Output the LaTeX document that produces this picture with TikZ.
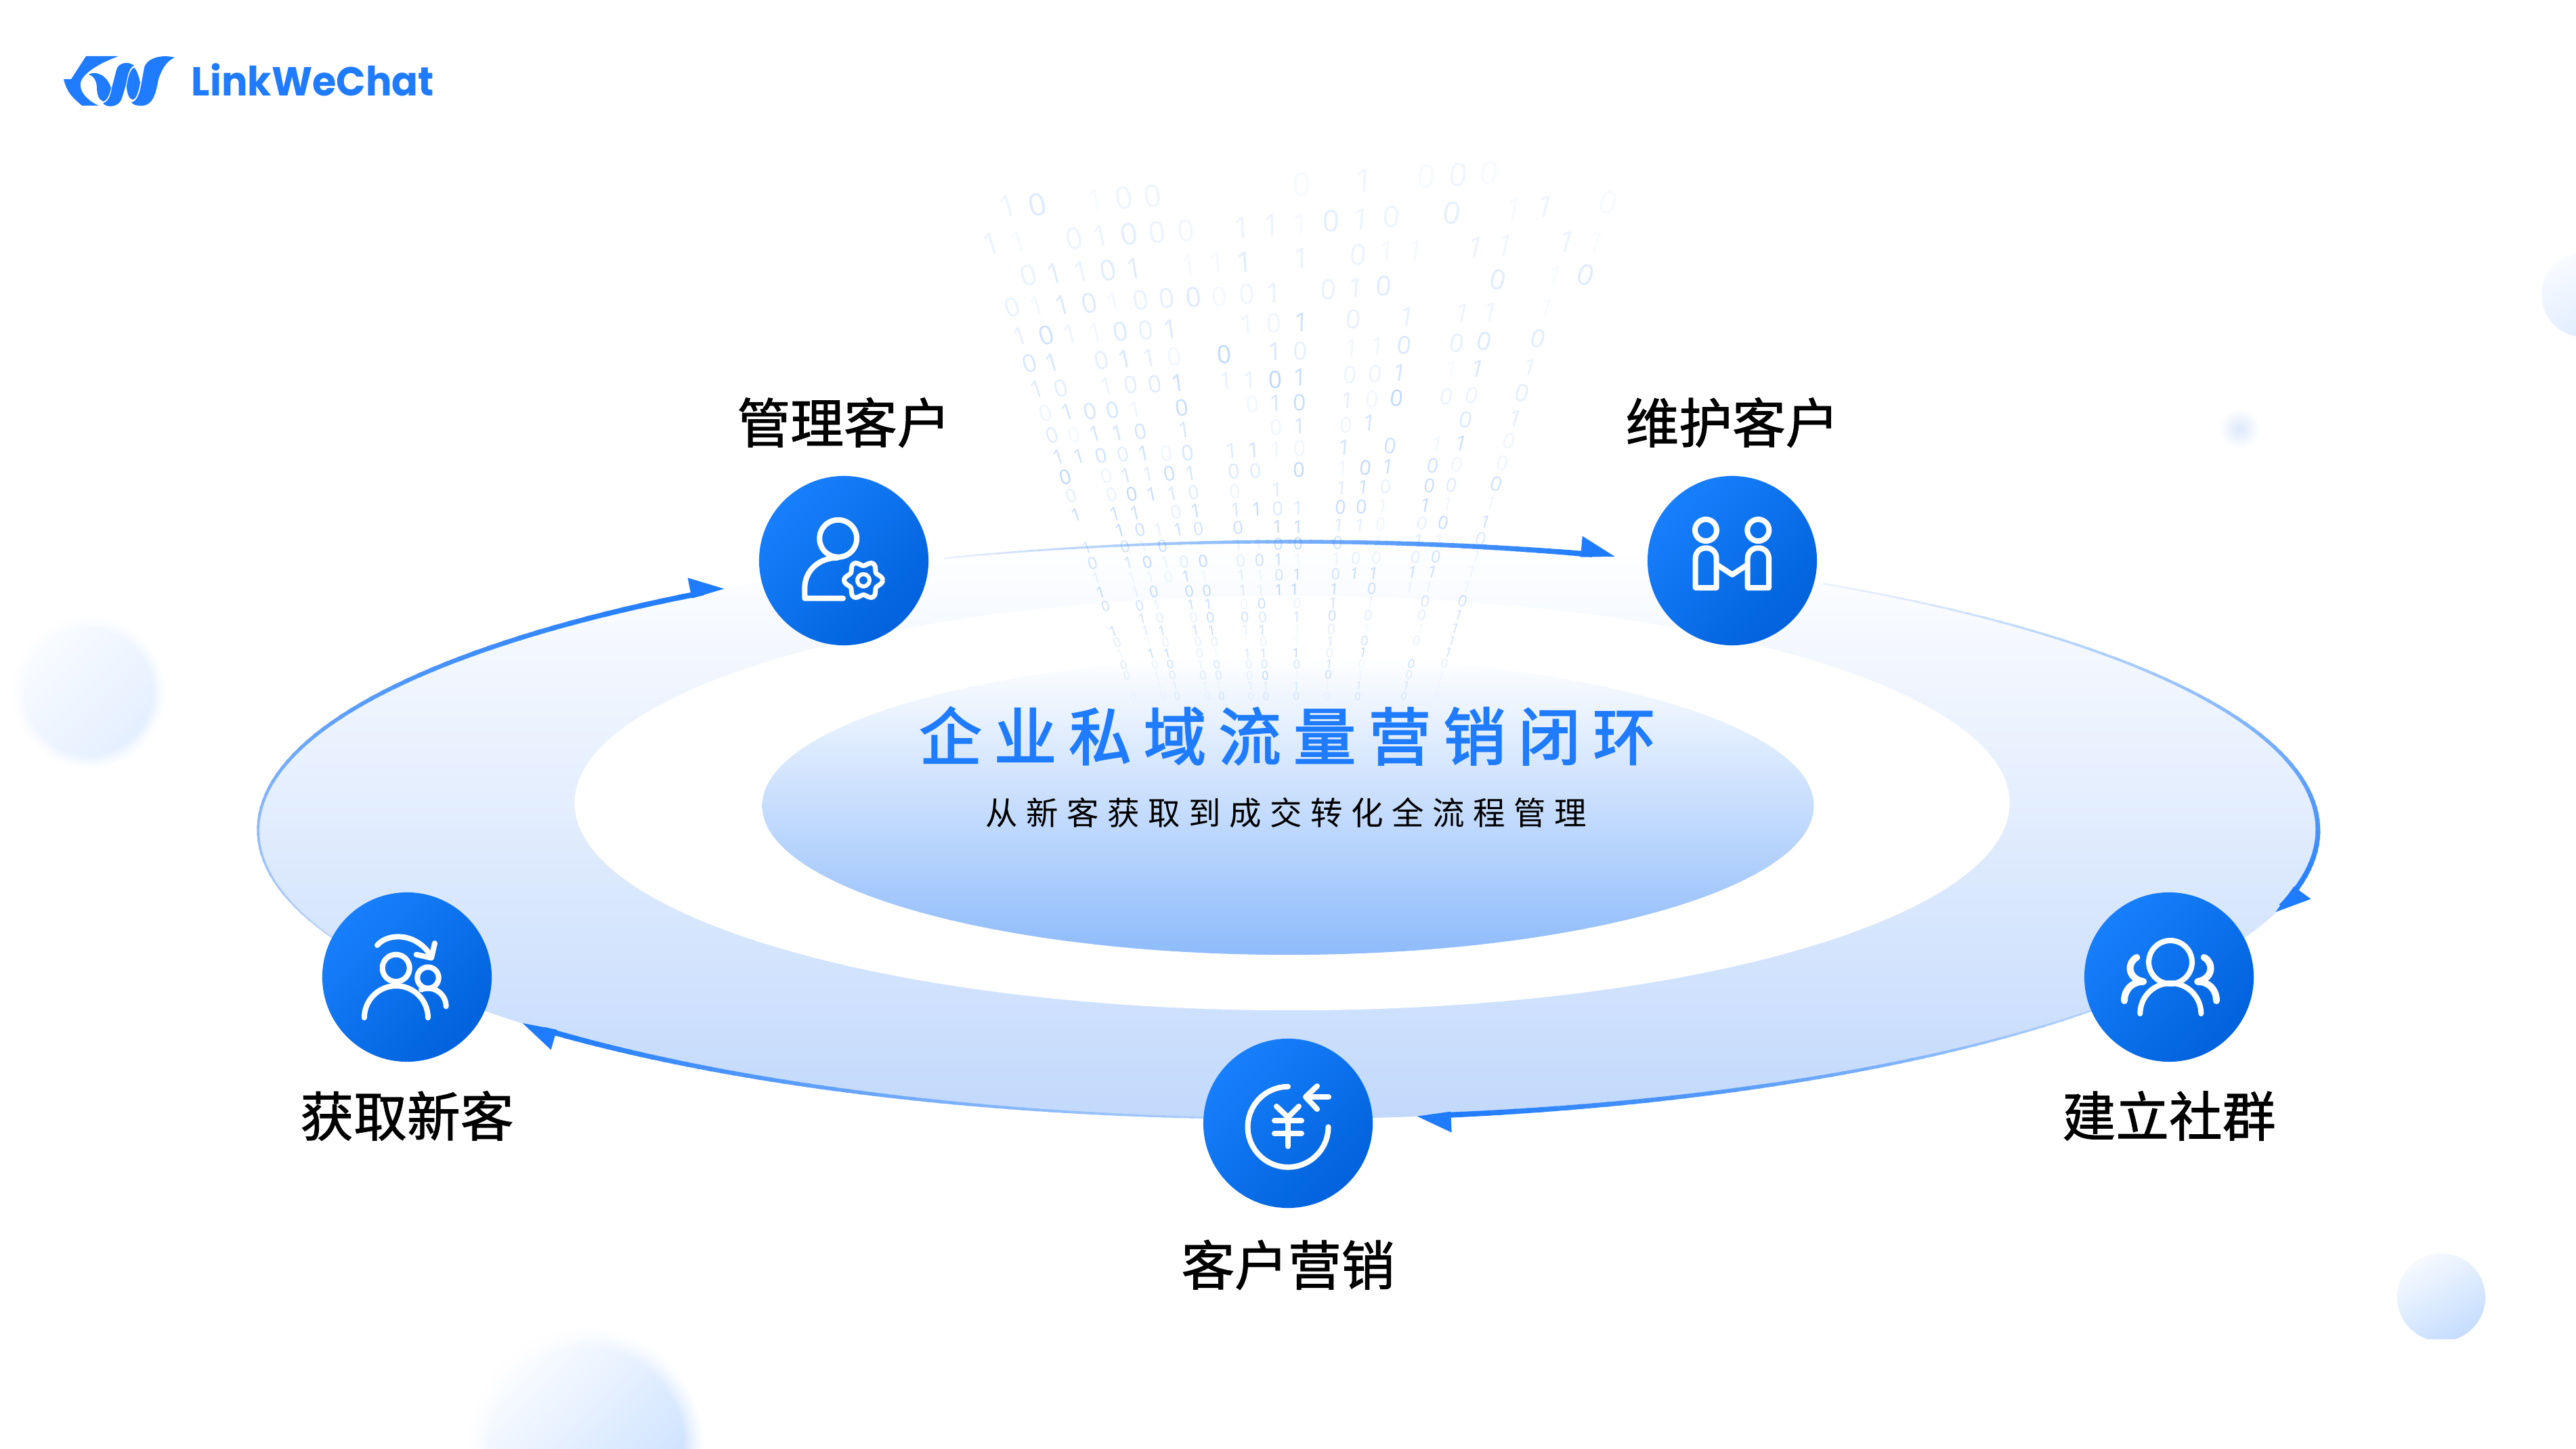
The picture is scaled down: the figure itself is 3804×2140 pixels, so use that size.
\documentclass[tikz,border=0pt]{standalone}
\usepackage{fontspec}
\setmainfont{Noto Sans CJK SC}
\newfontfamily\labelfont[FakeBold=1.3]{Noto Sans CJK SC}
\newfontfamily\titlefont[LetterSpace=20,FakeBold=2.4]{Noto Sans CJK SC}
\newfontfamily\subfont[LetterSpace=26.4]{Noto Sans CJK SC}
\newfontfamily\digitfont{Open Sans}
\newfontfamily\logofont{Poppins}
\definecolor{linkblue}{HTML}{1F7BFF}
\definecolor{ringlow}{HTML}{C2D9FC}
\definecolor{ringcen}{HTML}{E4EEFE}
\definecolor{ringmid}{HTML}{C3D8FB}
\definecolor{ringfaint}{HTML}{E6EFFE}
\definecolor{corelow}{HTML}{8EBBFB}
\definecolor{hubtop}{HTML}{187FFC}
\definecolor{hubbot}{HTML}{0062DC}
\definecolor{blobB}{HTML}{DCE8FB}
\tikzset{
  x=0.01cm,y=-0.01cm,
  hub/.style={circle,minimum size=2.5cm,inner sep=0pt,top color=hubtop,bottom color=hubbot,shading angle=45},
  steplabel/.style={font=\labelfont\fontsize{22.4}{24}\selectfont,text=black,inner sep=0pt},
  iconline/.style={draw=white,line width=0.08cm,line cap=round,line join=round},
  digitnode/.style={inner sep=0pt,text=linkblue},
}
\newcommand\iconarc[5]{\draw[iconline] plot[domain=#4:#5,samples=40,variable=\angv] ({#1+#3*cos(\angv)},{#2+#3*sin(\angv)});}
% soft-edged disc: x, y, radius (cm), percent of blue at the two ends of the diagonal
\newcommand\softblob[5]{%
  \shade[top color=linkblue!#4!white,bottom color=linkblue!#5!white,shading angle=45] (#1,#2) circle [radius=#3 cm];
  \foreach \jj in {0,...,15}{
    \pgfmathsetmacro\rjj{#3*(0.84+0.17*\jj/15)}
    \pgfmathsetmacro\ojj{(\jj+1)/16}
    \pgfmathsetmacro\wjj{#3*0.17/15*1.4}
    \draw[white,opacity=\ojj,line width=\wjj cm] (#1,#2) circle [radius=\rjj cm];
  }}
\newcommand\ringarc[3]{%
  \foreach \kk in {0,...,59}{
    \pgfmathsetmacro\angA{#1+(#2-#1)*\kk/60}
    \pgfmathsetmacro\angB{#1+(#2-#1)*(\kk+1.3)/60}
    \pgfmathsetmacro\pcv{\kk/59*100}
    \pgfmathsetmacro\lwv{(2+\kk/59*6)*0.01}
    \draw[line width=\lwv cm,color=linkblue!\pcv!#3,line cap=butt]
      ({1902+1521*cos(\angA)},{1226+426*sin(\angA)}) -- ({1902+1521*cos(\angB)},{1226+426*sin(\angB)});
  }}
\newcommand\ringhead[1]{%
  \pgfmathsetmacro\spd{100*sqrt((15.21*sin(#1))^2+(4.26*cos(#1))^2)}
  \pgfmathsetmacro\bb{#1-50/\spd*57.3}
  \pgfmathsetmacro\nxx{cos(\bb)/15.21}
  \pgfmathsetmacro\nyy{sin(\bb)/4.26}
  \pgfmathsetmacro\nrm{sqrt(\nxx*\nxx+\nyy*\nyy)}
  \pgfmathsetmacro\nxx{\nxx/\nrm}
  \pgfmathsetmacro\nyy{\nyy/\nrm}
  \fill[linkblue] ({1902+1521*cos(#1)},{1226+426*sin(#1)})
    -- ({1902+1521*cos(\bb)+26*\nxx},{1226+426*sin(\bb)+26*\nyy})
    -- ({1902+1521*cos(\bb)-5*\nxx},{1226+426*sin(\bb)-5*\nyy}) -- cycle;
}
\begin{document}
\begin{tikzpicture}
\useasboundingbox (0,0) rectangle (3804,2140);
\fill[white] (0,0) rectangle (3804,2140);
% background blobs
\softblob{131}{1022}{1.12}{2}{13}
\shade[inner color=blobB,outer color=white] (3307,633) circle [radius=0.3cm];
\shade[top color=linkblue!3!white,bottom color=linkblue!15!white,shading angle=30] (3816,435) circle [radius=0.63cm];
\begin{scope}
  \clip (3500,1800) rectangle (3700,1977);
  \shade[top color=linkblue!4!white,bottom color=linkblue!26!white,shading angle=30] (3605,1916) circle [radius=0.65cm];
\end{scope}
\softblob{866}{2134}{1.72}{1}{26}
% ring and core
\shade[top color=white,middle color=ringcen,bottom color=ringlow] (1902,1226) ellipse [x radius=15.21cm,y radius=4.26cm];
\fill[white] (1908,1186) ellipse [x radius=10.59cm,y radius=3.06cm];
\shade[top color=white,bottom color=corelow] (1902,1190) ellipse [x radius=7.76cm,y radius=2.2cm];
% ring arrows
\ringarc{155}{235}{ringmid}\ringhead{236.8}
\ringarc{250.5}{287}{ringfaint}\ringhead{288.5}
\ringarc{301.3}{375}{ringfaint}\ringhead{376.5}
\ringarc{35}{81}{ringlow}\ringhead{82.8}
\ringarc{88}{136}{ringlow}\ringhead{138}
% binary digit rain
\foreach \xx/\yy/\dgt/\oo [count=\ii] in {
108/125/1/1,176/122/0/2,310/110/1/0.5,375/102/0/1,442/98/0/1,788/65/0/0.5,932/52/1/1,1076/40/0/0.5,1150/35/0/1,1222/30/0/0.5,1352/128/1/1,1497/115/0/0.5,1280/135/1/0.5,
68/235/1/1,132/232/1/0.5,260/220/0/1,322/213/1/1,388/208/0/1.5,453/203/0/1,520/198/0/0.7,650/188/1/1,718/182/1/1,785/178/1/0.5,855/170/0/1.5,925/165/1/1,995/158/0/1,1135/146/0/1.5,
155/327/0/1,215/322/1/1.5,277/316/1/1,340/312/0/1.5,400/307/1/1.5,527/298/1/0.5,592/290/1/0.5,655/288/1/1.5,787/278/1/1,918/268/0/1,985/258/1/0.5,1052/255/1/0.5,1190/245/1/1,1260/240/1/0.7,1402/230/1/1,1470/230/1/0.3,
118/420/0/1,175/416/1/0.5,233/412/1/1.5,295/408/0/1.5,352/403/1/0.5,415/398/0/1,475/394/0/1.2,537/390/0/1.5,598/388/0/0.5,660/382/0/0.7,722/378/1/1,850/368/0/1,913/362/1/1,978/358/0/1.5,1242/340/0/1.5,1375/330/1/0.3,1445/325/0/1.5,
136/503/1/1,196/500/0/2,252/497/1/0.7,310/494/1/0.5,368/490/0/1.5,427/486/0/1,483/482/1/1.5,662/468/1/0.7,724/465/0/0.7,786/462/1/2,908/454/0/1,1033/445/1/1,1160/435/1/0.7,1225/432/1/0.7,1355/423/1/0.3,
158/582/0/1.5,210/580/1/1.5,324/572/0/1,378/570/1/1.5,435/566/1/1,493/562/0/0.5,608/555/0/2.5,725/548/1/1.5,785/545/0/1,903/537/1/0.5,963/533/1/0.5,1025/530/0/1.5,1147/522/0/1,1210/518/0/1.5,1335/510/0/1.2,
175/655/1/1.2,230/653/0/1,336/647/1/0.7,392/644/0/1,447/641/0/1.2,501/638/1/2,612/632/1/0.8,668/630/1/0.8,726/628/0/2.5,783/622/1/2,900/615/0/0.7,958/612/0/0.7,1015/608/1/1.7,1135/600/1/0.3,1195/598/1/1.5,1317/592/1/0.8,
195/725/0/0.6,245/722/1/1.5,298/720/0/1.5,350/717/0/1.5,402/715/1/0.5,510/710/0/2,673/700/0/0.5,727/697/1/1.5,782/695/0/2,893/688/1/1,950/685/0/0.5,1008/683/0/2.3,1123/677/0/0.7,1182/675/0/0.7,1298/668/0/1,
210/790/0/1,260/788/0/0.4,310/785/1/1.5,362/783/1/1.5,414/780/0/1.5,515/775/1/1.3,728/766/0/0.5,782/763/1/1.5,890/760/0/0.5,945/755/1/1.5,1168/745/0/1.2,1283/740/1/1,
224/853/1/1.5,273/850/1/1.5,323/848/0/1.5,374/846/0/1,422/843/1/1.5,474/842/0/0.5,524/840/0/1.3,625/835/1/1,676/833/1/1.5,728/831/1/0.5,782/828/0/0.5,886/825/1/1.5,993/820/0/1.7,1102/815/1/0.5,1157/812/1/1.7,1267/806/0/0.5,
240/910/0/2,336/907/0/0.5,382/905/1/1.3,432/903/1/1,481/901/0/1.7,530/899/1/1.3,630/895/0/1.2,680/893/0/1,781/889/0/2,882/886/1/0.5,935/883/0/2,987/881/1/1.7,1092/877/0/1.5,1146/875/0/0.5,1252/870/0/0.5,
254/965/0/0.8,347/962/0/0.7,394/961/0/2,440/960/1/1.7,488/958/1/1.2,537/956/0/1,632/952/0/0.5,730/948/1/1,880/943/1/1,930/940/1/1.7,982/938/0/0.7,1083/936/0/1.7,1134/934/0/1,1238/930/0/1.5,
265/1019/1/1.7,356/1016/1/1.5,402/1015/1/1.5,496/1011/0/0.7,542/1009/1/1.7,635/1006/1/1.2,684/1004/1/1.7,732/1003/0/1,779/1001/1/1,877/998/0/1.7,926/996/0/1.7,975/995/1/0.4,1074/992/1/1.7,1125/990/1/0.4,1226/987/1/0.4,
367/1065/1/1.7,413/1064/0/1.5,456/1063/1/0.7,502/1062/1/1.5,548/1060/0/1.3,640/1057/0/1.5,732/1055/1/1.7,779/1054/1/1.7,873/1051/1/1,922/1050/1/0.7,970/1048/0/0.4,1066/1045/0/0.7,1115/1043/0/1.7,1213/1040/1/1.5,
290/1115/1/1.2,378/1112/0/1.3,420/1111/1/0.5,465/1110/0/1.5,640/1106/1/0.5,688/1105/1/0.5,733/1105/0/1.5,779/1104/0/1.7,871/1100/0/1.2,965/1098/1/0.3,1058/1096/1/1,1106/1095/1/0.5,1202/1090/0/1,
303/1160/0/1.3,386/1158/1/1.2,430/1158/0/1.7,472/1157/1/0.5,515/1156/0/0.8,559/1155/0/1.7,646/1153/0/0.7,690/1152/0/1.3,734/1150/1/1.5,779/1150/1/0.3,868/1147/1/0.5,913/1146/0/0.7,960/1145/0/0.5,1051/1143/0/0.8,1098/1141/0/1.3,1192/1140/1/0.5,
312/1202/1/0.6,394/1201/1/0.4,437/1200/1/0.4,479/1199/0/0.4,520/1198/1/1.5,562/1198/1/0.3,648/1196/1/0.7,691/1195/1/0.4,735/1194/0/1.2,777/1193/1/1.5,866/1191/0/1.2,910/1190/1/1.5,954/1189/1/1.5,1044/1187/1/1.3,1090/1186/1/1.3,1181/1185/1/0.4,
322/1245/1/1.5,403/1243/1/0.5,445/1242/0/1.5,527/1241/0/1.5,568/1240/0/1.5,651/1239/1/0.8,692/1238/1/0.5,735/1237/1/1.7,771/1236/1/1.7,863/1235/1/1.5,950/1233/0/1.3,1037/1230/1/0.4,1081/1230/1/0.4,1170/1228/1/0.4,
333/1284/0/1.3,412/1283/0/1.3,451/1282/1/0.6,531/1280/1/1.5,571/1279/1/1.5,654/1278/0/0.4,695/1277/0/1.5,777/1276/0/0.5,860/1275/1/1.2,947/1273/1/0.4,1073/1271/0/1,1160/1270/0/1.3,
418/1320/1/1.2,459/1319/0/0.7,537/1318/0/0.6,576/1317/0/1.5,656/1316/0/1.3,697/1316/0/1,776/1315/1/1.2,858/1313/0/1.5,941/1312/0/0.7,1066/1310/0/0.7,1151/1309/1/1.2,
351/1357/1/1.2,426/1356/1/0.8,464/1355/1/1.3,541/1354/1/1.3,579/1354/1/1.3,658/1353/1/0.6,696/1353/1/1.2,777/1352/1/0.3,856/1351/0/0.7,937/1350/1/0.3,1062/1349/1/0.3,1143/1348/1/1.2,
360/1390/0/0.8,432/1389/1/0.3,472/1389/0/0.6,547/1388/0/0.6,585/1388/0/0.6,699/1387/0/0.5,776/1387/1/0.3,854/1386/1/1,933/1385/0/1.2,1053/1384/0/0.6,1135/1384/1/1,
367/1422/1/0.4,439/1422/1/1.5,476/1422/1/1.5,551/1421/0/0.6,588/1421/1/0.3,662/1421/1/1,699/1421/1/1.2,774/1420/1/1.5,852/1420/0/0.6,930/1419/1/1.5,1127/1418/1/1.2,
375/1454/0/0.8,447/1453/0/0.5,483/1453/0/1.2,553/1453/1/0.4,591/1453/0/1,665/1453/0/0.6,701/1453/0/1,776/1452/0/1,851/1452/1/1.2,926/1452/0/0.3,1041/1451/0/1.3,1118/1451/0/0.6,
383/1485/0/0.6,452/1485/1/0.3,488/1485/0/0.8,559/1485/0/0.7,595/1485/0/0.8,667/1485/0/0.5,703/1485/0/1.5,777/1485/1/0.3,849/1484/0/1.3,923/1484/1/0.3,1036/1483/0/0.7,1111/1483/1/0.3,
458/1515/1/0.2,494/1515/1/0.5,563/1515/1/0.3,597/1515/1/0.2,669/1515/1/0.6,704/1515/1/0.5,775/1515/1/0.8,847/1515/1/0.2,920/1515/1/0.8,1030/1515/1/0.8,1105/1515/1/0.2,
398/1545/0/0.3,467/1545/0/0.3,499/1545/0/0.6,570/1545/0/0.4,602/1545/0/1,670/1545/0/0.4,705/1545/0/0.8,775/1545/0/0.8,846/1545/0/0.3,917/1545/0/0.8,1024/1545/0/0.7,1098/1545/0/0.2}{
  \pgfmathsetmacro\rxx{1420+\xx/1.568}
  \pgfmathsetmacro\ryy{240+\yy/1.96}
  \pgfmathsetmacro\rot{atan((1900-\rxx)/(1716-\ryy))}
  \pgfmathsetmacro\szv{round((46-(\ryy-290)*0.04)*0.2845*2)/2}
  \pgfmathsetmacro\opc{\oo*(0.07+0.13*(\ryy-290)/740)}
  \node[digitnode,opacity=\opc,rotate=\rot,font=\digitfont\fontsize{\szv}{\szv}\selectfont] (d\ii) at (\rxx,\ryy) {\dgt};
}
% hubs
\node[hub] (n1) at (1246,828) {};
\node[hub] (n2) at (2558,828) {};
\node[hub] (n3) at (3203,1443) {};
\node[hub] (n4) at (1902,1659) {};
\node[hub] (n5) at (601,1443) {};
% labels
\node[steplabel] (l1) at (1246,624) {管理客户};
\node[steplabel] (l2) at (2558,624) {维护客户};
\node[steplabel] (l3) at (3203,1648) {建立社群};
\node[steplabel] (l4) at (1902,1868) {客户营销};
\node[steplabel] (l5) at (601,1648) {获取新客};
\node[inner sep=0pt,text=linkblue,font=\titlefont\fontsize{26.2}{28}\selectfont] (title) at (1901,1087) {企业私域流量营销闭环};
\node[inner sep=0pt,text=black,font=\subfont\fontsize{13.5}{15}\selectfont] (subtitle) at (1899,1200) {从新客获取到成交转化全流程管理};
% icon: manage customers
\begin{scope}[shift={(n1)}]
  \iconarc{-8.3}{-32.7}{27.5}{0}{360}
  \draw[iconline] (-1,55.7) -- (-57.7,55.7) -- (-57.7,41) .. controls (-57.7,14) and (-36,-4.3) .. (-9,-4.3);
  \draw[draw=white,line width=0.07cm,line join=round] plot[domain=0:360,samples=73,smooth,variable=\angv] ({29+(25+3.5*cos(6*\angv))*cos(\angv)},{29+(25+3.5*cos(6*\angv))*sin(\angv)});
  \draw[draw=white,line width=0.06cm] (29,29) circle [radius=0.09cm];
\end{scope}
% icon: maintain customers
\begin{scope}[shift={(n2)}]
  \iconarc{-39}{-45}{16}{0}{360}
  \iconarc{38.3}{-45}{16}{0}{360}
  \draw[iconline] (-54.3,40) -- (-54.3,-3) .. controls (-54.3,-24) and (-23.3,-24) .. (-23.3,-3) -- (-23.3,40) -- cycle;
  \draw[iconline] (22.7,40) -- (22.7,-3) .. controls (22.7,-24) and (54,-24) .. (54,-3) -- (54,40) -- cycle;
  \draw[iconline] (-21,7) -- (0,20.7) -- (21,7);
\end{scope}
% icon: community
\begin{scope}[shift={(n3)}]
  \iconarc{2}{-22}{32}{0}{360}
  \iconarc{2.3}{54}{45}{180}{360}
  \draw[iconline,line width=0.1cm] (-47.7,-29) .. controls (-62,-22) and (-62,2) .. (-38,6.7);
  \draw[iconline,line width=0.1cm] (-66,35) .. controls (-66,18) and (-54,6.7) .. (-38,6.7);
  \draw[iconline,line width=0.1cm] (51.7,-29) .. controls (66,-22) and (66,2) .. (42.3,6.7);
  \draw[iconline,line width=0.1cm] (70,35) .. controls (70,18) and (58,6.7) .. (42.3,6.7);
\end{scope}
% icon: marketing
\begin{scope}[shift={(n4)}]
  \iconarc{0}{5.3}{59.5}{-90}{-360}
  \draw[iconline] (-17,-25) -- (0,-9) -- (16,-25);
  \draw[iconline] (-20,-4) -- (20,-4);
  \draw[iconline] (-20,15) -- (20,15);
  \draw[iconline] (0,-9) -- (0,34);
  \draw[iconline] (60,-39) -- (28,-39);
  \draw[iconline] (43,-55) -- (26,-39) -- (43,-21);
\end{scope}
% icon: acquire customers
\begin{scope}[shift={(n5)}]
  \iconarc{-16.3}{-13.3}{20}{0}{360}
  \iconarc{-16}{60}{47}{180}{360}
  \iconarc{31}{1}{15.7}{0}{360}
  \iconarc{31}{43.3}{26.7}{-112}{0}
  \draw[iconline] (-44,-47) .. controls (-28,-66) and (15,-66) .. (36,-30);
  \draw[iconline] (13.7,-33.3) -- (36,-28.3) -- (41,-50);
\end{scope}
% logo
\fill[linkblue] (127,83) -- (175,83) .. controls (150,92) and (115,110) .. (119,128) .. controls (120,140) and (135,152) .. (146,156) -- (121,156) .. controls (110,146) and (100,140) .. (94,117) -- (105,117) -- cycle;
\fill[linkblue] (131,110) .. controls (140,104) and (158,110) .. (164,130) .. controls (162,140) and (158,148) .. (153,150) .. controls (146,148) and (143,140) .. (143,128) .. controls (142,118) and (138,112) .. (131,110) -- cycle;
\fill[linkblue] (152,153) .. controls (158,150) and (163,145) .. (165,130) -- (172,103) .. controls (175,92) and (190,90) .. (198,97) .. controls (190,100) and (188,115) .. (186,125) -- (180,145) .. controls (176,158) and (160,160) .. (152,153) -- cycle;
\fill[linkblue] (198,100) .. controls (202,103) and (205,113) .. (207,122) .. controls (205,135) and (201,147) .. (196,147) .. controls (190,147) and (187,135) .. (187,127) .. controls (189,115) and (192,102) .. (198,100) -- cycle;
\fill[linkblue] (194,151) .. controls (203,150) and (207,135) .. (209,122) -- (213,100) .. controls (217,85) and (240,80) .. (258,85) .. controls (245,90) and (238,105) .. (234,117) .. controls (230,140) and (225,158) .. (206,156) .. controls (200,156) and (196,154) .. (194,151) -- cycle;
\node[inner sep=0pt,anchor=center,text=linkblue,xscale=0.958,font=\logofont\bfseries\fontsize{17}{19}\selectfont] (logotext) at (462,118) {LinkWeChat};
\end{tikzpicture}
\end{document}
